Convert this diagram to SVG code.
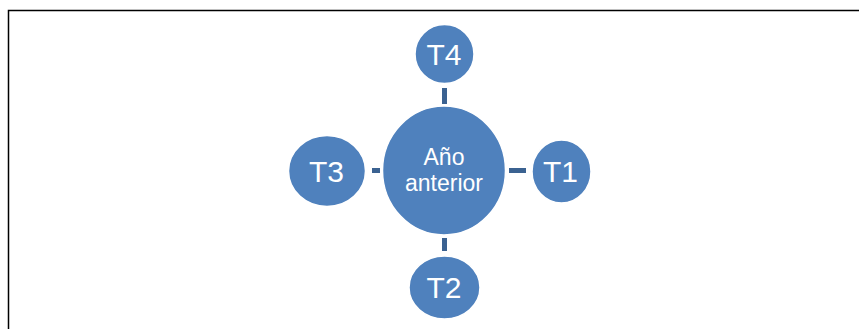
<svg xmlns="http://www.w3.org/2000/svg" width="859" height="329" viewBox="0 0 859 329">
<style>
.node{fill:#4F81BD;stroke:#FFFFFF;stroke-width:1.5}
.lbl{fill:#FFFFFF;font-family:"Liberation Sans",Arial,sans-serif;text-anchor:middle}
.big{font-size:30px}
.small{font-size:23px}
.conn{fill:#3B6291}
</style>
<rect width="859" height="329" fill="#FFFFFF"/>
<path d="M8.5 329 V10.5 H859" fill="none" stroke="#000000" stroke-width="1.5"/>
<g id="connectors">
<rect class="conn" x="442" y="88" width="5" height="16"/>
<rect class="conn" x="442" y="238" width="5" height="13"/>
<rect class="conn" x="372" y="168" width="8" height="5"/>
<rect class="conn" x="509" y="168" width="17" height="5"/>
</g>
<g id="center">
<ellipse class="node" cx="444" cy="170.5" rx="61.5" ry="64.5"/>
<text class="lbl small" x="444" y="165">Año</text>
<text class="lbl small" x="444" y="191">anterior</text>
</g>
<g id="t4">
<ellipse class="node" cx="444.5" cy="54" rx="29.5" ry="29.5"/>
<text class="lbl big" x="444" y="64.5">T4</text>
</g>
<g id="t1">
<ellipse class="node" cx="561.5" cy="171.5" rx="29.5" ry="31.5"/>
<text class="lbl big" x="560.5" y="181.5">T1</text>
</g>
<g id="t3">
<ellipse class="node" cx="327" cy="171" rx="38.5" ry="35.5"/>
<text class="lbl big" x="326.5" y="181.5">T3</text>
</g>
<g id="t2">
<ellipse class="node" cx="444.5" cy="287.5" rx="35.5" ry="31.5"/>
<text class="lbl big" x="444" y="297.5">T2</text>
</g>
</svg>
